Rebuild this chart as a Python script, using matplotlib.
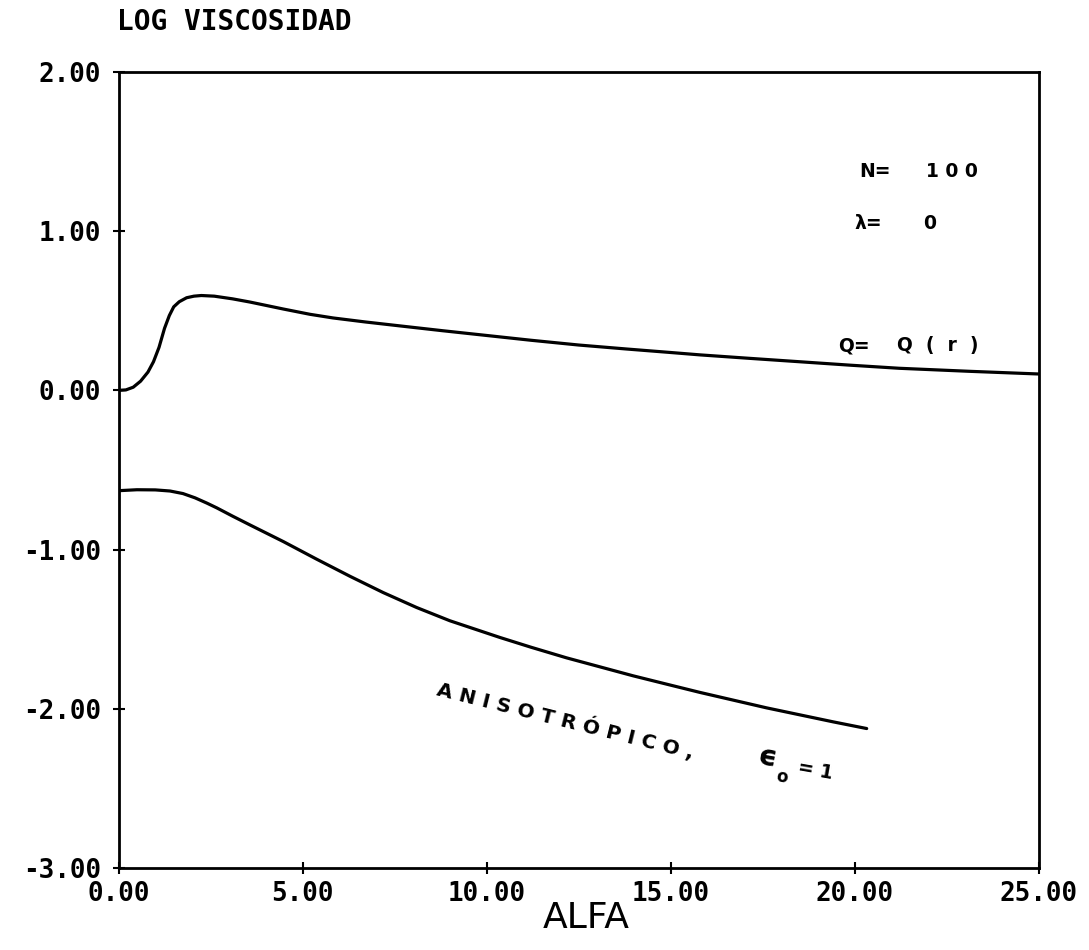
import matplotlib
matplotlib.use("Agg")
import matplotlib.pyplot as plt

# ---- data ----
q_alfa = [0.0, 0.2, 0.4, 0.6, 0.8, 0.95, 1.1, 1.25, 1.38, 1.5, 1.65, 1.85, 2.05, 2.25,
          2.6, 3.1, 3.57, 4.48, 5.2, 5.83, 6.7, 7.65, 8.8, 10.0, 11.2, 12.5, 13.8,
          15.0, 15.8, 17.1, 18.5, 19.9, 21.2, 23.1, 25.0]
q_logv = [0.0, 0.003, 0.02, 0.058, 0.115, 0.18, 0.27, 0.39, 0.47, 0.525, 0.557, 0.582,
          0.592, 0.596, 0.592, 0.575, 0.555, 0.511, 0.478, 0.455, 0.43, 0.405, 0.375,
          0.345, 0.315, 0.285, 0.26, 0.238, 0.223, 0.202, 0.18, 0.158, 0.139, 0.12, 0.103]

a_alfa = [0.0, 0.5, 1.0, 1.4, 1.75, 2.08, 2.4, 2.67, 3.1, 3.57, 4.48, 5.38, 6.29, 7.19,
          8.10, 9.0, 10.36, 11.2, 12.17, 13.98, 14.9, 15.79, 17.60, 19.41, 20.32]
a_logv = [-0.63, -0.624, -0.625, -0.632, -0.648, -0.675, -0.708, -0.738, -0.79, -0.845,
          -0.950, -1.060, -1.168, -1.270, -1.364, -1.447, -1.552, -1.613, -1.680,
          -1.793, -1.846, -1.897, -1.994, -2.082, -2.124]

x_ticks = [0, 5, 10, 15, 20, 25]
y_ticks = [2, 1, 0, -1, -2, -3]
x_ticklabels = ["0.00", "5.00", "10.00", "15.00", "20.00", "25.00"]
y_ticklabels = ["2.00", "1.00", "0.00", "-1.00", "-2.00", "-3.00"]

fig = plt.figure(figsize=(10.89, 9.5), dpi=100)
ax = fig.add_axes([118.5 / 1089, (950 - 868) / 950, (1039 - 118.5) / 1089, (868 - 72) / 950])

ax.plot(q_alfa, q_logv, color="black", lw=2.3, solid_capstyle="round", solid_joinstyle="round")
ax.plot(a_alfa, a_logv, color="black", lw=2.3, solid_capstyle="round", solid_joinstyle="round")

ax.set_xlim(0, 25)
ax.set_ylim(-3, 2)
for s in ax.spines.values():
    s.set_linewidth(2.0)

mono = dict(family="DejaVu Sans Mono", weight="bold", size=18.7)
ax.set_xticks(x_ticks)
ax.set_xticklabels(x_ticklabels, **mono)
ax.set_yticks(y_ticks)
ax.set_yticklabels(y_ticklabels, **mono)
ax.tick_params(axis="both", direction="inout", length=9, width=1.5)
ax.tick_params(axis="y", pad=8)
ax.tick_params(axis="x", pad=5)

fig.text(117 / 1089, 1 - 22 / 950, "LOG VISCOSIDAD", ha="left", va="center",
         family="DejaVu Sans Mono", weight="bold", size=20)
fig.text(586 / 1089, 1 - 918 / 950, "ALFA", ha="center", va="center",
         family="DejaVu Sans", size=26)

ann = dict(family="DejaVu Sans", weight="bold", size=13.5, va="center", ha="left")
ax.text(20.13, 1.374, "N=", **ann)
ax.text(21.93, 1.374, "1 0 0", **ann)
ax.text(20.0, 1.046, "λ=", **ann)
ax.text(21.85, 1.046, "0", **ann)
ax.text(19.54, 0.279, "Q=", **ann)
ax.text(21.14, 0.279, "Q  (  r  )", **ann)

ax.text(8.65, -1.87, "A N I S O T R Ó P I C O ,", family="DejaVu Sans", weight="bold",
        size=14.5, rotation=-14, rotation_mode="anchor", ha="left", va="center")
ax.text(17.38, -2.30, "ϵ", family="DejaVu Sans", weight="bold", size=21,
        rotation=-10, rotation_mode="anchor", ha="left", va="center")
ax.text(17.85, -2.42, "o", family="DejaVu Sans", weight="bold", size=12,
        rotation=-10, rotation_mode="anchor", ha="left", va="center")
ax.text(18.45, -2.37, "= 1", family="DejaVu Sans", weight="bold", size=13.5,
        rotation=-10, rotation_mode="anchor", ha="left", va="center")

fig.savefig("out.png", dpi=100)
